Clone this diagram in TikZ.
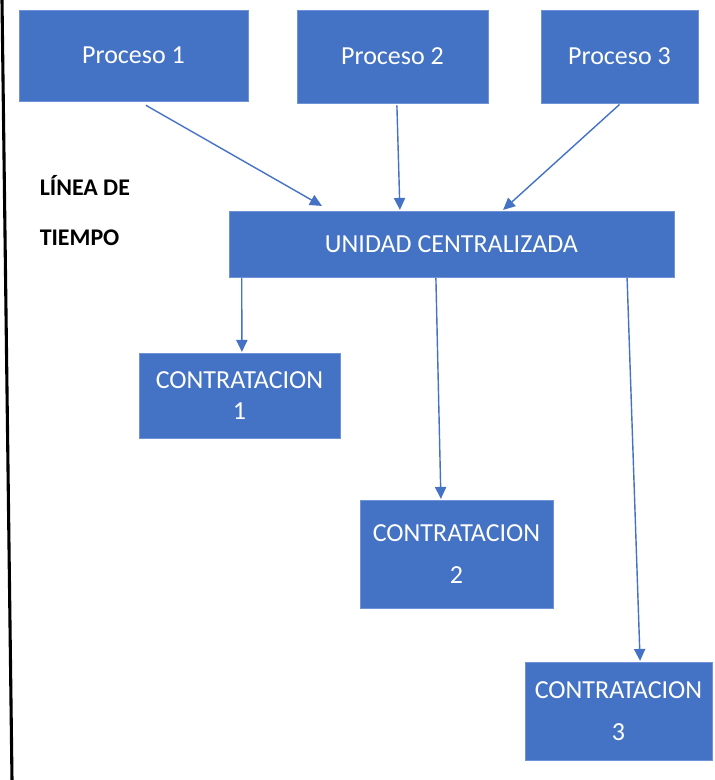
\documentclass[tikz,border=0pt]{standalone}
\usepackage{fontspec}
\setmainfont{Carlito}
\usepackage{tikz}
\usepackage{xcolor}
\usetikzlibrary{arrows.meta}
\definecolor{office-blue}{HTML}{4472C4}
\definecolor{office-edge}{HTML}{6F93D6}
\tikzset{
    blue-box/.style = {draw=office-edge, fill=office-blue, thin, rectangle, text=white, align=center, inner sep=0pt, font=\fontsize{18.5}{22}\selectfont},
    blue-box-wide/.style = {blue-box, font=\fontsize{18.5}{30}\selectfont},
    blue-arrow/.style = {draw=office-blue, line width=1pt, -{Triangle[length=0.3cm, width=0.28cm]}},
}

\begin{document}
\begin{tikzpicture}
\useasboundingbox (0,0) rectangle (17.875,-19.5);
% time line on the left
\coordinate (line-top) at (0.05,0);
\coordinate (line-bottom) at (0.3,-19.5);
\draw[line width=2.2pt] (line-top) -- (line-bottom);
\node[anchor=west, align=left, font=\fontsize{17}{35.5}\selectfont\bfseries] (timeline) at (0.87,-5.26) {LÍNEA DE\\TIEMPO};

\node[blue-box, minimum width=5.725cm, minimum height=2.275cm] (proc1) at (3.3375,-1.3875) {Proceso 1};
\node[blue-box, minimum width=4.775cm, minimum height=2.325cm] (proc2) at (9.8125,-1.4125) {Proceso 2};
\node[blue-box, minimum width=3.925cm, minimum height=2.325cm] (proc3) at (15.4875,-1.4125) {Proceso 3};

\node[blue-box, minimum width=11.125cm, minimum height=1.65cm] (unidad) at (11.2875,-6.1) {UNIDAD CENTRALIZADA};

\node[blue-box, minimum width=5.025cm, minimum height=2.125cm] (contr1) at (5.9875,-9.8875) {CONTRATACION\\1};
\node[blue-box-wide, minimum width=4.825cm, minimum height=2.7cm] (contr2) at (11.4125,-13.85) {CONTRATACION\\2};
\node[blue-box-wide, minimum width=4.675cm, minimum height=2.45cm] (contr3) at (15.4625,-17.775) {CONTRATACION\\3};

% processes into the unit
\draw[blue-arrow] ([shift={(0.31,-0.1)}]proc1.south) -- ([shift={(-3.24,0.12)}]unidad.north);
\draw[blue-arrow] ([shift={(0.11,-0.05)}]proc2.south) -- ([shift={(-1.29,0.02)}]unidad.north);
\draw[blue-arrow] ([shift={(0,-0.03)}]proc3.south) -- ([shift={(1.29,0.02)}]unidad.north);

% unit down to the hirings
\draw[blue-arrow] ([shift={(0.325,-0.02)}]unidad.south west) -- ([shift={(0.06,0.02)}]contr1.north);
\draw[blue-arrow] ([shift={(-0.39,-0.02)}]unidad.south) -- ([shift={(-0.39,0.02)}]contr2.north);
\draw[blue-arrow] ([shift={(4.39,-0.02)}]unidad.south) -- ([shift={(0.54,0.02)}]contr3.north);
\end{tikzpicture}
\end{document}
